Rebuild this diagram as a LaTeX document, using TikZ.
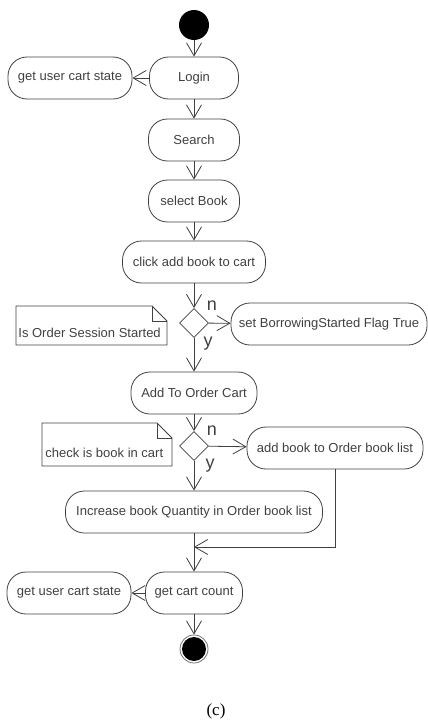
\documentclass[tikz,border=0pt]{standalone}
\usepackage{fontspec}
\setmainfont{Liberation Sans}
\newfontfamily\capfont{Liberation Serif}
\usetikzlibrary{arrows.meta,shapes.geometric}

\begin{document}
\begin{tikzpicture}[x=1pt,y=-1pt,color=black!75,line width=0.8pt,
  every node/.style={font=\fontsize{13}{15}\selectfont, inner sep=0pt},
  act/.style={draw, rounded corners=19pt, minimum height=42pt},
  dec/.style={draw, diamond, minimum width=29pt, minimum height=29pt},
  flow/.style={-{Straight Barb[length=13pt,width=15pt]}},
  lbl/.style={font=\fontsize{18}{18}\selectfont}]

\useasboundingbox (0,0) rectangle (428,720);

\node[circle, fill=black, minimum size=30pt] (start) at (194,25) {};
\node[act, minimum width=89pt] (login) at (194,78) {Login};
\node[act, minimum width=124pt] (state1) at (70,78) {get user cart state};
\node[act, minimum width=91pt] (search) at (194,140) {Search};
\node[act, minimum width=91pt] (select) at (194,201) {select Book};
\node[act, minimum width=143pt] (click) at (194,262) {click add book to cart};
\node[dec] (dec1) at (194,323) {};
\node[act, minimum width=196pt] (flag) at (329,324) {set BorrowingStarted Flag True};
\node[act, minimum width=126pt] (order) at (194,393) {Add To Order Cart};
\node[dec] (dec2) at (194,446) {};
\node[act, minimum width=176pt] (addlist) at (335,448) {add book to Order book list};
\node[act, minimum width=257pt] (incr) at (194,512) {Increase book Quantity in Order book list};
\node[act, minimum width=97pt] (count) at (194,593) {get cart count};
\node[act, minimum width=124pt] (state2) at (69,593) {get user cart state};
\node[circle, draw=black!55, minimum size=28pt] (stop) at (194,649) {};
\node[circle, fill=black, minimum size=24pt] (stopdot) at (stop) {};

% notes
\draw (16,306) -- (152,306) -- (167,321) -- (167,345) -- (16,345) -- cycle;
\draw (152,306) -- (152,321) -- (167,321);
\node[anchor=west] (note1) at (18,333) {Is Order Session Started};
\draw (42,423) -- (157,423) -- (172,438) -- (172,466) -- (42,466) -- cycle;
\draw (157,423) -- (157,438) -- (172,438);
\node[anchor=west] (note2) at (45,453) {check is book in cart};

\node[lbl] (n1) at (212,306) {n};
\node[lbl] (y1) at (208,344) {y};
\node[lbl] (n2) at (212,431) {n};
\node[lbl] (y2) at (210,466) {y};

\coordinate (join) at (194,547);

\draw[flow] (start) -- (login);
\draw[flow] (login) -- (state1);
\draw[flow] (login) -- (search);
\draw[flow] (search) -- (select);
\draw[flow] (select) -- (click);
\draw[flow] (click) -- (dec1);
\draw[flow] (dec1) -- (flag);
\draw[flow] (dec1) -- (order);
\draw[flow] (order) -- (dec2);
\draw[flow] (dec2) -- (addlist);
\draw[flow] (dec2) -- (incr);
\draw[flow] (addlist.south) |- (join);
\draw[flow] (incr) -- (count);
\draw[flow] (count) -- (state2);
\draw[flow] (count) -- (stop);

\node[font=\capfont\fontsize{17}{17}\selectfont, text=black] (cap) at (216,711) {(c)};
\end{tikzpicture}
\end{document}
